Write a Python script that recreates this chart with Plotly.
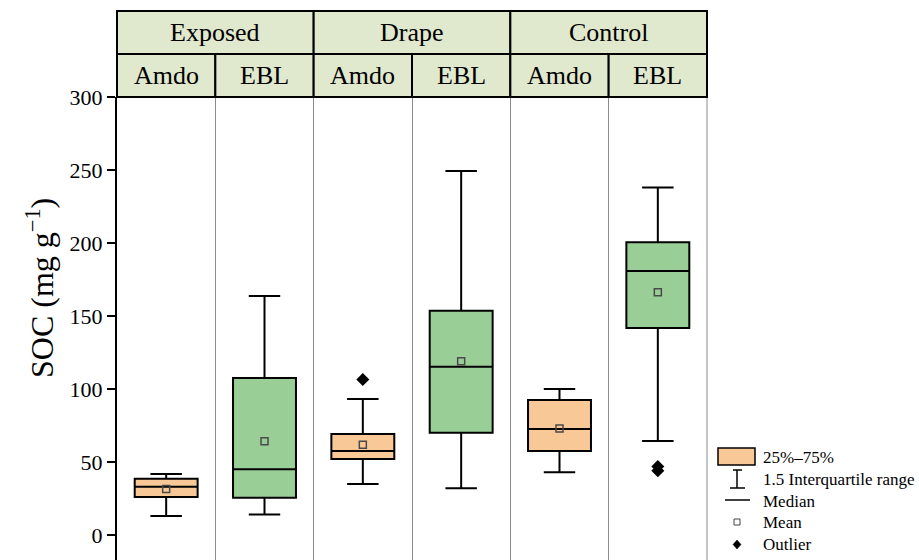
import plotly.graph_objects as go

# ---------------- data ----------------
groups = ["Exposed", "Drape", "Control"]
sites = ["Amdo", "EBL", "Amdo", "EBL", "Amdo", "EBL"]
q1 = [26, 25.5, 52, 70, 57.5, 141.8]
median = [33, 45, 57.5, 115.3, 72.6, 180.8]
q3 = [38.6, 107.5, 69.2, 153.6, 92.5, 200.5]
lower_whisker = [13, 14, 35, 32, 43, 64.4]
upper_whisker = [41.8, 163.7, 93.2, 249.3, 100, 238]
mean_vals = [31.5, 64.2, 61.9, 119, 73, 166.2]
outlier_pos = [2, 5, 5]
outlier_vals = [106.5, 47, 44]
y_ticks = [0, 50, 100, 150, 200, 250, 300]

ORANGE = "#f8c897"
GREEN = "#99cf96"
HEADER = "#e0e9ce"
FONT = "Liberation Serif"

W, H = 919, 560
L, R, T, B = 117, 707, 97, 560  # plot area pixels


def px(x):
    return x / W


def py(y):
    return 1 - y / H


fig = go.Figure()

for i in range(6):
    fig.add_trace(go.Box(
        x=[i], q1=[q1[i]], median=[median[i]], q3=[q3[i]],
        lowerfence=[lower_whisker[i]], upperfence=[upper_whisker[i]],
        fillcolor=ORANGE if sites[i] == "Amdo" else GREEN,
        line=dict(color="black", width=2),
        width=0.64, whiskerwidth=0.5, boxpoints=False,
        showlegend=False, hoverinfo="skip",
    ))

fig.add_trace(go.Scatter(
    x=list(range(6)), y=mean_vals, mode="markers",
    marker=dict(symbol="square-open", size=7, color="#4a4a4a", line=dict(width=1.5)),
    showlegend=False, hoverinfo="skip",
))
fig.add_trace(go.Scatter(
    x=outlier_pos, y=outlier_vals, mode="markers",
    marker=dict(symbol="diamond", size=10, color="black"),
    showlegend=False, hoverinfo="skip",
))

shapes = []
annotations = []

# right border
shapes.append(dict(type="line", xref="paper", yref="paper",
                   x0=px(R), x1=px(R), y0=py(T), y1=py(B),
                   line=dict(color="#8c8c8c", width=1)))

# header cells
top_y0, top_y1, mid_y = 11, 97, 54
panel_w = (R - L) / 6
for g in range(3):
    x0 = L + g * 2 * panel_w
    x1 = x0 + 2 * panel_w
    shapes.append(dict(type="rect", xref="paper", yref="paper",
                       x0=px(x0), x1=px(x1), y0=py(mid_y), y1=py(top_y0),
                       fillcolor=HEADER, line=dict(color="black", width=2)))
    annotations.append(dict(xref="paper", yref="paper", x=px((x0 + x1) / 2), y=py((top_y0 + mid_y) / 2),
                            text=groups[g], showarrow=False,
                            font=dict(family=FONT, size=26, color="black"),
                            xanchor="center", yanchor="middle"))
for i in range(6):
    x0 = L + i * panel_w
    x1 = x0 + panel_w
    shapes.append(dict(type="rect", xref="paper", yref="paper",
                       x0=px(x0), x1=px(x1), y0=py(top_y1), y1=py(mid_y),
                       fillcolor=HEADER, line=dict(color="black", width=2)))
    annotations.append(dict(xref="paper", yref="paper", x=px((x0 + x1) / 2), y=py((mid_y + top_y1) / 2),
                            text=sites[i], showarrow=False,
                            font=dict(family=FONT, size=26, color="black"),
                            xanchor="center", yanchor="middle"))

# y-axis title
annotations.append(dict(xref="paper", yref="paper", x=px(40), y=py(288),
                        text="SOC (mg g<sup>−1</sup>)", textangle=-90, showarrow=False,
                        font=dict(family=FONT, size=32, color="black"),
                        xanchor="center", yanchor="middle"))

# custom legend
lf = dict(family=FONT, size=17, color="black")
tx = 761
shapes.append(dict(type="rect", xref="paper", yref="paper",
                   x0=px(718), x1=px(755), y0=py(465), y1=py(448),
                   fillcolor=ORANGE, line=dict(color="black", width=1.5)))
annotations.append(dict(xref="paper", yref="paper", x=px(tx), y=py(457), text="25%–75%",
                        showarrow=False, font=lf, xanchor="left", yanchor="middle"))
for (xa, xb, ya, yb) in [(737, 737, 470, 488), (733, 742, 470, 470), (730, 745, 488, 488)]:
    shapes.append(dict(type="line", xref="paper", yref="paper",
                       x0=px(xa), x1=px(xb), y0=py(ya), y1=py(yb),
                       line=dict(color="black", width=1.5)))
annotations.append(dict(xref="paper", yref="paper", x=px(tx), y=py(479), text="1.5 Interquartile range",
                        showarrow=False, font=lf, xanchor="left", yanchor="middle"))
shapes.append(dict(type="line", xref="paper", yref="paper",
                   x0=px(725), x1=px(750), y0=py(500), y1=py(500),
                   line=dict(color="black", width=1.5)))
annotations.append(dict(xref="paper", yref="paper", x=px(tx), y=py(501), text="Median",
                        showarrow=False, font=lf, xanchor="left", yanchor="middle"))
shapes.append(dict(type="rect", xref="paper", yref="paper",
                   x0=px(734), x1=px(740), y0=py(525), y1=py(519),
                   line=dict(color="#444444", width=1)))
annotations.append(dict(xref="paper", yref="paper", x=px(tx), y=py(522), text="Mean",
                        showarrow=False, font=lf, xanchor="left", yanchor="middle"))
shapes.append(dict(type="path", xref="paper", yref="paper",
                   path=f"M {px(737)} {py(540)} L {px(741)} {py(544.5)} L {px(737)} {py(549)} L {px(733)} {py(544.5)} Z",
                   fillcolor="black", line=dict(color="black", width=0.5)))
annotations.append(dict(xref="paper", yref="paper", x=px(tx), y=py(544), text="Outlier",
                        showarrow=False, font=lf, xanchor="left", yanchor="middle"))

fig.update_layout(
    width=W, height=H,
    margin=dict(l=0, r=0, t=0, b=0),
    paper_bgcolor="white", plot_bgcolor="white",
    shapes=shapes, annotations=annotations,
    xaxis=dict(domain=[px(L), px(R)], range=[-0.5, 5.5],
               tickvals=[0.5, 1.5, 2.5, 3.5, 4.5], showticklabels=False, ticks="",
               showgrid=True, gridcolor="#8c8c8c", gridwidth=1,
               zeroline=False, showline=False, fixedrange=True),
    yaxis=dict(domain=[0, py(T)], range=[-(B - 535) / 1.46, 300],
               tickvals=y_ticks, ticks="outside", ticklen=8, tickwidth=2, tickcolor="black",
               showline=True, linewidth=2, linecolor="black",
               showgrid=False, zeroline=False,
               tickfont=dict(family=FONT, size=22, color="black"), automargin=False),
    showlegend=False,
)

fig.write_html("out.html", config={"displayModeBar": False},
               post_script="document.body.style.margin='0';document.body.style.overflow='hidden';")
